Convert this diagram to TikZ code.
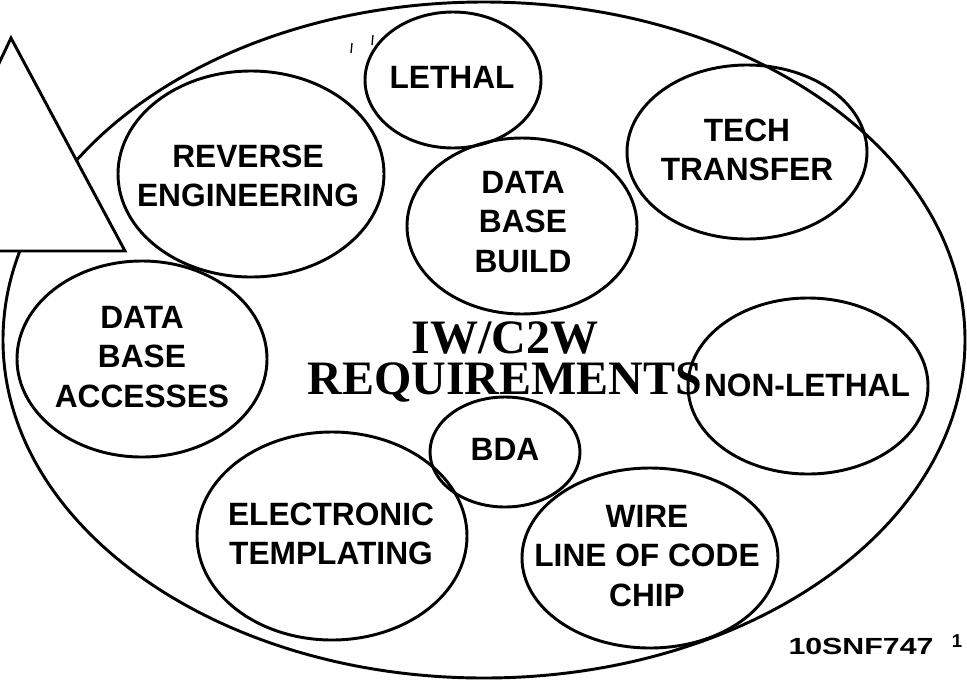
\documentclass[tikz,border=0pt]{standalone}
\usepackage{fontspec}
\newfontfamily\labelfont{Liberation Sans}
\newfontfamily\titlefont{Liberation Serif}

\tikzset{every picture/.style={line width=2.2pt}}
\tikzset{
  bubble/.style={line width=2.2pt},
  lbl/.style={align=center, inner sep=0pt, xscale=1.08, yscale=1.1,
    font=\labelfont\bfseries\fontsize{22}{27}\selectfont},
  ttl/.style={align=center, inner sep=0pt,
    font=\titlefont\bfseries\fontsize{36}{31}\selectfont},
  tag/.style={inner sep=0pt, font=\labelfont\bfseries\fontsize{17.5}{20}\selectfont}
}

\begin{document}
\begin{tikzpicture}[x=0.75pt,y=0.75pt,yscale=-1,xscale=1]
  \useasboundingbox (0,0) rectangle (967,683);

  % outer requirement ellipse
  \draw [bubble] (484,340) ellipse [x radius=481, y radius=338];
  % pointer triangle on the left
  \draw [bubble, fill=white, line join=miter] (11,38) -- (125,251) -- (-90,251) -- cycle;

  % stray marks
  \draw [line width=1pt] (352,43) -- (351,53);
  \draw [line width=1pt] (373,35) -- (372,45);

  % inner bubbles
  \draw [bubble] (453,80) ellipse [x radius=88, y radius=68];
  \draw [bubble] (251,174) ellipse [x radius=133, y radius=103];
  \draw [bubble] (522,226) ellipse [x radius=115, y radius=88];
  \draw [bubble] (747,152) ellipse [x radius=120, y radius=87];
  \draw [bubble] (142,359) ellipse [x radius=125, y radius=98];
  \draw [bubble] (808,386) ellipse [x radius=120, y radius=88];
  \draw [bubble] (505,452) ellipse [x radius=75, y radius=55];
  \draw [bubble] (332,536) ellipse [x radius=135, y radius=104];
  \draw [bubble] (650,558) ellipse [x radius=128, y radius=90];

  % labels
  \node [lbl] (lethal) at (452,77) {LETHAL};
  \node [lbl] (reverse) at (248,176) {REVERSE\\ENGINEERING};
  \node [lbl] (dbbuild) at (523,222) {DATA\\BASE\\BUILD};
  \node [lbl] (tech) at (747,150) {TECH\\TRANSFER};
  \node [lbl] (dbaccess) at (142,357) {DATA\\BASE\\ACCESSES};
  \node [lbl] (nonlethal) at (807,385) {NON-LETHAL};
  \node [lbl] (bda) at (505,449) {BDA};
  \node [lbl] (templating) at (331,534) {ELECTRONIC\\TEMPLATING};
  \node [lbl] (wire) at (647,556) {WIRE\\LINE OF CODE\\CHIP};

  \node [ttl] (title) at (505,362) {IW/C2W\\REQUIREMENTS};

  \node [tag, xscale=1.3] (docid) at (861,646) {10SNF747};
  \node [tag, font=\labelfont\bfseries\fontsize{14}{16}\selectfont] (page) at (957,641) {1};

\end{tikzpicture}
\end{document}
